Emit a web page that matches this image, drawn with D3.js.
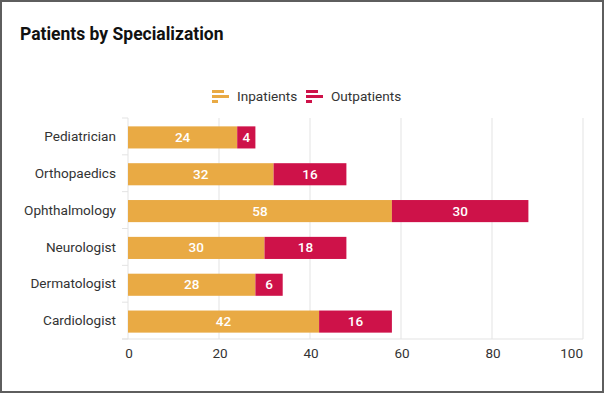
<!DOCTYPE html>
<html>
<head>
<meta charset="utf-8">
<script src="https://cdn.jsdelivr.net/npm/d3@7"></script>
<style>
  body { margin: 0; background: #fff; }
  svg { display: block; font-family: Roboto, "Noto Sans", sans-serif; }
</style>
</head>
<body>
<svg id="chart" width="604" height="393"></svg>
<script>
let categories = ['Pediatrician', 'Orthopaedics', 'Ophthalmology', 'Neurologist', 'Dermatologist', 'Cardiologist'];
let inpatients = [24, 32, 58, 30, 28, 42];
let outpatients = [4, 16, 30, 18, 6, 16];
let seriesNames = ['Inpatients', 'Outpatients'];
let xTicks = [0, 20, 40, 60, 80, 100];

let colors = ['#E9AA44', '#CE1249'];
let size = {w: 604, h: 393};
let margin = {l: 128, r: 21, t: 118, b: 54};
let canvasSize = {w: size.w - margin.l - margin.r, h: size.h - margin.t - margin.b};

let svg = d3.select('#chart');

// frame
svg.append('rect')
    .attr('x', 1).attr('y', 1)
    .attr('width', size.w - 2).attr('height', size.h - 2)
    .attr('fill', '#fff')
    .attr('stroke', '#5e5e5e')
    .attr('stroke-width', 2);

svg.append('text')
    .attr('x', 20).attr('y', 40)
    .attr('font-size', '17.5px')
    .attr('font-weight', 700)
    .attr('fill', '#111')
    .text('Patients by Specialization');

let canvas = svg.append('g')
    .attr('transform', `translate(${margin.l}, ${margin.t})`);

let xScale = d3.scaleLinear()
    .domain([0, 100])
    .range([0, canvasSize.w]);

let yScale = d3.scaleBand()
    .domain(categories)
    .range([0, canvasSize.h])
    .paddingInner(0.4)
    .paddingOuter(0.2);

// grid
canvas.selectAll('.grid')
    .data(xTicks)
    .join('line')
    .classed('grid', true)
    .attr('x1', d => xScale(d)).attr('x2', d => xScale(d))
    .attr('y1', 0).attr('y2', canvasSize.h)
    .attr('stroke', '#e3e3e3');

// y ticks at band boundaries
let bounds = d3.range(categories.length + 1).map(i => i * canvasSize.h / categories.length);
canvas.selectAll('.ytick')
    .data(bounds)
    .join('line')
    .classed('ytick', true)
    .attr('x1', -6).attr('x2', 0)
    .attr('y1', d => d).attr('y2', d => d)
    .attr('stroke', '#e3e3e3');

// bottom axis line
canvas.append('line')
    .attr('x1', -6).attr('x2', canvasSize.w)
    .attr('y1', canvasSize.h).attr('y2', canvasSize.h)
    .attr('stroke', '#e3e3e3');

// stacked data
let rows = categories.map((c, i) => ({cat: c, Inpatients: inpatients[i], Outpatients: outpatients[i]}));
let stacked = d3.stack().keys(seriesNames)(rows);

let layers = canvas.selectAll('.layer')
    .data(stacked)
    .join('g')
    .classed('layer', true)
    .attr('fill', (d, i) => colors[i]);

layers.selectAll('rect')
    .data(d => d)
    .join('rect')
    .attr('x', d => xScale(d[0]))
    .attr('y', d => yScale(d.data.cat) + 1)
    .attr('width', d => xScale(d[1]) - xScale(d[0]))
    .attr('height', yScale.bandwidth());

layers.selectAll('.val')
    .data(d => d)
    .join('text')
    .classed('val', true)
    .attr('x', d => (xScale(d[0]) + xScale(d[1])) / 2)
    .attr('y', d => yScale(d.data.cat) + yScale.bandwidth() / 2 + 2)
    .attr('text-anchor', 'middle')
    .style('dominant-baseline', 'middle')
    .attr('fill', '#fff')
    .attr('font-size', '13.5px')
    .attr('font-weight', 500)
    .text(d => d[1] - d[0]);

// category labels
canvas.selectAll('.cat')
    .data(categories)
    .join('text')
    .classed('cat', true)
    .attr('x', -12)
    .attr('y', d => yScale(d) + yScale.bandwidth() / 2 + 1)
    .attr('text-anchor', 'end')
    .style('dominant-baseline', 'middle')
    .attr('font-size', '13.6px')
    .attr('fill', '#333')
    .text(d => d);

// x tick labels, last one kept inside the plot
canvas.selectAll('.xlab')
    .data(xTicks)
    .join('text')
    .classed('xlab', true)
    .attr('x', (d, i) => i === xTicks.length - 1 ? xScale(d) : xScale(d) + 1)
    .attr('y', canvasSize.h + 19)
    .attr('text-anchor', (d, i) => i === xTicks.length - 1 ? 'end' : 'middle')
    .attr('font-size', '13.5px')
    .attr('fill', '#333')
    .text(d => d);

// legend
let legendX = [212, 306];
let legend = svg.selectAll('.legend')
    .data(seriesNames)
    .join('g')
    .classed('legend', true)
    .attr('transform', (d, i) => `translate(${legendX[i]}, 90)`);

let iconBars = [12, 17, 6];
legend.each(function(d, i){
    d3.select(this).selectAll('rect')
        .data(iconBars)
        .join('rect')
        .attr('x', 0)
        .attr('y', (w, j) => j * 5)
        .attr('width', w => w)
        .attr('height', 3)
        .attr('fill', colors[i]);
});

legend.append('text')
    .attr('x', 25)
    .attr('y', 7)
    .style('dominant-baseline', 'middle')
    .attr('font-size', '13.6px')
    .attr('fill', '#333')
    .text(d => d);
</script>
</body>
</html>
